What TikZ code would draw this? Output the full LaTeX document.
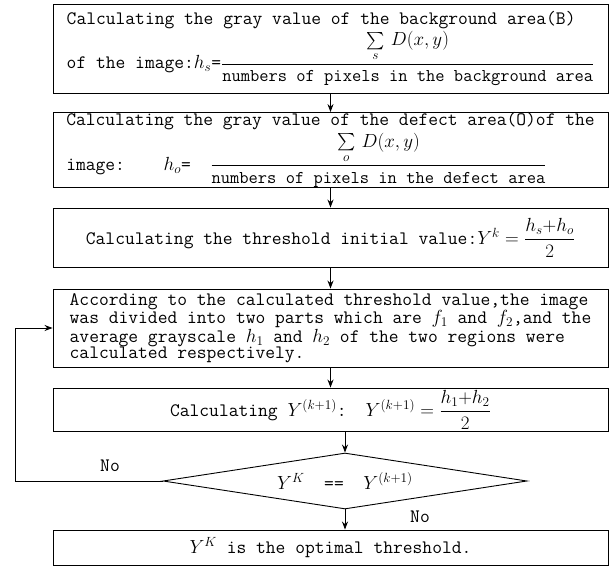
\RequirePackage{fix-cm}
\documentclass[tikz,border=0pt]{standalone}
\usepackage{amsmath}
\usetikzlibrary{positioning,arrows.meta,shapes.geometric}
\tikzset{
    % Flowchart styles
    procbox/.style={rectangle, draw, line width=0.9pt, minimum width=555pt,
                    inner sep=0pt, align=left},
    decision/.style={diamond, draw, line width=0.9pt, minimum width=364pt,
                     minimum height=56pt, inner sep=0pt, aspect=6.5},
    % Arrow styles
    arrow/.style={-{Stealth[length=8pt, width=6pt]}, line width=0.9pt},
    annot/.style={font=\ttfamily\fontsize{19}{19}\selectfont},
}

\begin{document}
\begin{tikzpicture}[x=1pt, y=-1pt, font=\ttfamily\fontsize{19}{16}\selectfont]
    \useasboundingbox (0,0) rectangle (616,567);

    % Steps
    \node[procbox, minimum height=89pt] (bg) at (330.5,48.5)
        {Calculating the gray value of the background area(B)\\[2pt]
         of the image:$h_s$=$\dfrac{\textstyle\sum\limits_s\, D(x,y)}{\text{\fontsize{18}{18}\selectfont numbers of pixels in the background area}}$};
    \node[procbox, minimum height=74pt] (defect) at (330.5,150)
        {Calculating the gray value of the defect area(O)of the\\[2pt]
         image:\quad\ \ $h_o$= \ $\dfrac{\textstyle\sum\limits_o\, D(x,y)}{\text{\fontsize{18}{18}\selectfont numbers of pixels in the defect area}}$};
    \node[procbox, minimum height=59pt] (init) at (330.5,237.5)
        {Calculating the threshold initial value:$Y^k = \dfrac{h_s{+}h_o}{2}$};
    \node[procbox, minimum height=78pt] (split) at (330.5,328)
        {According to the calculated threshold value,the image\\
         was divided into two parts which are $f_1$ and $f_2$,and the\\
         average grayscale $h_1$ and $h_2$ of the two regions were\\
         calculated respectively.};
    \node[procbox, minimum height=43pt] (update) at (330.5,409.5)
        {Calculating $Y^{(k+1)}$:\quad $Y^{(k+1)} = \dfrac{h_1{+}h_2}{2}$};
    \node[decision] (dec) at (345,481) {$Y^K$ \ == \ $Y^{(k+1)}$};
    \node[procbox, minimum height=35pt] (optimal) at (330.5,547.5)
        {$Y^K$ is the optimal threshold.};

    % Connectors
    \draw[arrow] (bg) -- (defect);
    \draw[arrow] (defect) -- (init);
    \draw[arrow] (init) -- (split);
    \draw[arrow] (split) -- (update);
    \draw[arrow] (dec.north |- update.south) -- (dec.north);
    \draw[arrow] (dec.south) -- (dec.south |- optimal.north);
    \coordinate (loop) at (15,481);
    \draw[arrow] (dec.west) -- (loop) |- (split.west);

    % Branch labels
    \node[annot] (no1) at (110,466) {No};
    \node[annot] (no2) at (420,517) {No};
\end{tikzpicture}
\end{document}
